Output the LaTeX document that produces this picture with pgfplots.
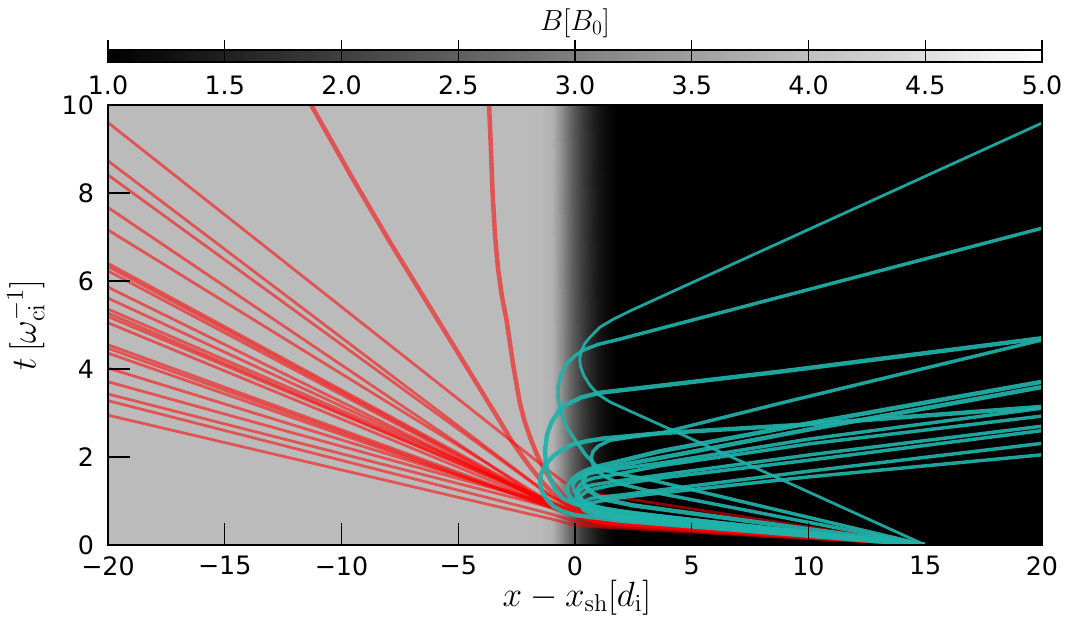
\documentclass[border=0pt]{standalone}
\usepackage[no-math]{fontspec}
\setmainfont{DejaVu Sans}
\usepackage{pgfplots}
\usepackage{pgfplotstable}
\pgfplotsset{compat=1.18}
\definecolor{ionred}{RGB}{255,0,0}
\definecolor{ionteal}{RGB}{32,178,170}

\pgfplotstableread{
x y B
-20 0 3.93
-3 0 3.93
-1.5 0 3.92
-1 0 3.79
-0.75 0 3.51
-0.5 0 3.12
-0.25 0 2.69
0 0 2.33
0.3 0 1.97
0.64 0 1.63
1 0 1.35
1.4 0 1.13
1.8 0 1
20 0 1
-20 10 3.93
-3 10 3.93
-1.5 10 3.92
-1 10 3.79
-0.75 10 3.51
-0.5 10 3.12
-0.25 10 2.69
0 10 2.33
0.3 10 1.97
0.64 10 1.63
1 10 1.35
1.4 10 1.13
1.8 10 1
20 10 1
}\fieldtable

\pgfplotstableread{
x y
1 0
5 0
1 1
5 1
}\cbartable

\tikzset{
  redthin/.style={ionred, opacity=0.55, line width=2.1pt, line join=round},
  redthick/.style={ionred, opacity=0.55, line width=3.4pt, line join=round},
  tealthin/.style={ionteal, opacity=0.92, line width=2.1pt, line join=round},
  tealmid/.style={ionteal, opacity=0.92, line width=2.6pt, line join=round},
  tealthick/.style={ionteal, opacity=0.92, line width=3.3pt, line join=round},
}

\begin{document}
\begin{tikzpicture}
\path[use as bounding box] (0,0) rectangle (813.75pt,465pt);

% colour bar
\begin{axis}[
  at={(81pt,418.5pt)}, anchor=south west,
  scale only axis, width=700.5pt, height=9pt,
  xmin=1, xmax=5, ymin=0, ymax=1,
  axis on top,
  axis line style={line width=1.2pt},
  colormap/blackwhite,
  point meta min=1, point meta max=5,
  xtick={1,1.5,2,2.5,3,3.5,4,4.5,5},
  xticklabels={1.0,1.5,2.0,2.5,3.0,3.5,4.0,4.5,5.0},
  ytick=\empty,
  xtick pos=lower, tick align=inside,
  major tick length=16.5pt,
  tick style={black, line width=1.1pt},
  every x tick label/.append style={font=\fontsize{19}{21}\selectfont, yshift=-7pt},
  title={$B[B_0]$},
  title style={at={(axis description cs:0.5,1)}, anchor=center, yshift=14pt, font=\fontsize{20.74}{24}\selectfont, scale=1.05},
]
\addplot[surf, shader=interp, mesh/rows=2, point meta=x] table[x=x, y=y] {\cbartable};
\end{axis}

% main panel
\begin{axis}[
  at={(81pt,56.25pt)}, anchor=south west,
  scale only axis, width=700.5pt, height=330pt,
  xmin=-20, xmax=20, ymin=0, ymax=10,
  axis on top,
  axis line style={line width=1.5pt},
  colormap/blackwhite,
  point meta min=1, point meta max=5,
  xtick={-20,-15,-10,-5,0,5,10,15,20},
  xticklabels={−20,−15,−10,−5,0,5,10,15,20},
  ytick={0,2,4,6,8,10},
  yticklabels={0,2,4,6,8,10},
  xtick pos=lower, ytick pos=left, tick align=inside,
  major tick length=16.5pt,
  tick style={black, line width=1.1pt},
  every x tick label/.append style={font=\fontsize{19}{21}\selectfont, yshift=-5pt},
  every y tick label/.append style={font=\fontsize{19}{21}\selectfont, xshift=-7pt},
  xlabel={$x-x_{\mathrm{sh}}[d_{\mathrm{i}}]$},
  ylabel={$t\,[\omega_{\mathrm{ci}}^{-1}]$},
  xlabel style={at={(axis description cs:0.502,-0.12)}, anchor=center, font=\fontsize{20.74}{24}\selectfont, scale=1.27},
  ylabel style={at={(axis description cs:-0.088,0.5)}, anchor=center, font=\fontsize{20.74}{24}\selectfont, scale=1.27},
]
\addplot[surf, shader=interp, mesh/rows=2, point meta=\thisrow{B}] table[x=x, y=y] {\fieldtable};

% transmitted ions
\addplot[redthin] coordinates {(-20,9.6)(-8.35,4.72)(-2,2.06)(-1,1.64)(-0.5,1.44)(0,1.26)(0.5,1.20)(1,1.15)(15,0)};
\addplot[redthin] coordinates {(-20,8.73)(-8.35,4.05)(-2,1.50)(-1,1.10)(-0.5,0.97)(0,0.85)(0.5,0.74)(1,0.68)(15,0)};
\addplot[redthin] coordinates {(-20,8.41)(-8.35,3.92)(-2,1.48)(-1,1.09)(-0.5,0.96)(0,0.84)(0.5,0.74)(1,0.67)(15,0)};
\addplot[redthin] coordinates {(-20,7.67)(-8.35,3.50)(-2,1.23)(-1,0.87)(-0.5,0.77)(0,0.67)(0.5,0.60)(1,0.53)(15,0)};
\addplot[redthin] coordinates {(-20,7.16)(-8.35,3.35)(-2,1.28)(-1,0.95)(-0.5,0.84)(0,0.73)(0.5,0.64)(1,0.57)(15,0)};
\addplot[redthin] coordinates {(-20,6.40)(-8.35,3.05)(-2,1.22)(-1,0.93)(-0.5,0.82)(0,0.72)(0.5,0.63)(1,0.56)(15,0)};
\addplot[redthin] coordinates {(-20,6.33)(-8.35,3.00)(-2,1.19)(-1,0.90)(-0.5,0.79)(0,0.69)(0.5,0.61)(1,0.54)(15,0)};
\addplot[redthin] coordinates {(-20,6.23)(-8.35,2.95)(-2,1.16)(-1,0.88)(-0.5,0.77)(0,0.68)(0.5,0.60)(1,0.52)(15,0)};
\addplot[redthin] coordinates {(-20,5.86)(-8.35,2.82)(-2,1.16)(-1,0.90)(-0.5,0.79)(0,0.69)(0.5,0.61)(1,0.54)(15,0)};
\addplot[redthin] coordinates {(-20,5.61)(-8.35,2.75)(-2,1.19)(-1,0.94)(-0.5,0.83)(0,0.72)(0.5,0.64)(1,0.56)(15,0)};
\addplot[redthin] coordinates {(-20,5.36)(-8.35,2.68)(-2,1.22)(-1,0.99)(-0.5,0.87)(0,0.76)(0.5,0.66)(1,0.59)(15,0)};
\addplot[redthin] coordinates {(-20,5.27)(-8.35,2.62)(-2,1.17)(-1,0.94)(-0.5,0.83)(0,0.72)(0.5,0.63)(1,0.56)(15,0)};
\addplot[redthin] coordinates {(-20,5.19)(-8.35,2.60)(-2,1.19)(-1,0.97)(-0.5,0.85)(0,0.75)(0.5,0.65)(1,0.58)(15,0)};
\addplot[redthin] coordinates {(-20,5.05)(-8.35,2.50)(-2,1.11)(-1,0.89)(-0.5,0.78)(0,0.69)(0.5,0.60)(1,0.52)(15,0)};
\addplot[redthin] coordinates {(-20,4.55)(-8.35,2.30)(-2,1.07)(-1,0.88)(-0.5,0.77)(0,0.68)(0.5,0.60)(1,0.52)(15,0)};
\addplot[redthin] coordinates {(-20,4.47)(-8.35,2.25)(-2,1.04)(-1,0.85)(-0.5,0.75)(0,0.65)(0.5,0.57)(1,0.50)(15,0)};
\addplot[redthin] coordinates {(-20,4.36)(-8.35,2.20)(-2,1.03)(-1,0.84)(-0.5,0.74)(0,0.65)(0.5,0.57)(1,0.49)(15,0)};
\addplot[redthin] coordinates {(-20,4.02)(-8.35,2.12)(-2,1.08)(-1,0.92)(-0.5,0.81)(0,0.71)(0.5,0.62)(1,0.54)(15,0)};
\addplot[redthin] coordinates {(-20,3.71)(-8.35,2.00)(-2,1.07)(-1,0.92)(-0.5,0.81)(0,0.71)(0.5,0.62)(1,0.54)(15,0)};
\addplot[redthin] coordinates {(-20,3.43)(-8.35,1.85)(-2,0.99)(-1,0.85)(-0.5,0.75)(0,0.65)(0.5,0.57)(1,0.50)(15,0)};
\addplot[redthin] coordinates {(-20,3.28)(-8.35,1.70)(-2,0.84)(-1,0.70)(-0.5,0.62)(0,0.54)(0.5,0.49)(1,0.45)(15,0)};
\addplot[redthin] coordinates {(-20,2.95)(-8.35,1.50)(-2,0.71)(-1,0.59)(-0.5,0.52)(0,0.45)(0.5,0.43)(1,0.41)(15,0)};
\addplot[redthick] coordinates {(-11.3,10)(-9.6,8.4)(-7.92,6.88)(-5.87,5.11)(-3.2,2.80)(-2.65,2.31)(-2,1.83)(-1.37,1.41)(-0.9,1.15)(-0.5,0.97)(0,0.8)(1,0.6)(15,0)};
\addplot[redthick] coordinates {(-3.68,10)(-3.6,9)(-3.53,8)(-3.42,7)(-3.3,6.3)(-3.13,5.65)(-2.93,5.11)(-2.65,4.1)(-2.36,3.22)(-2.15,2.8)(-1.93,2.46)(-1.65,2.08)(-1.37,1.77)(-1,1.45)(-0.5,1.12)(0,0.9)(1,0.7)(15,0)};

% reflected ions
\addplot[tealthin] coordinates {(15,0)(9.07,1.43)(4.37,2.56)(2.2,3.08)(1.5,3.25)(1,3.42)(0.65,3.62)(0.38,3.85)(0.24,4.05)(0.2,4.22)(0.26,4.4)(0.42,4.58)(0.64,4.72)(1.07,4.95)(1.6,5.12)(2.4,5.33)(20,9.59)};
\addplot[tealmid] coordinates {(15,0)(8,0.88)(3,1.51)(2,1.6)(1.4,1.68)(0.92,1.79)(0.45,2.05)(0,2.39)(-0.35,2.67)(-0.6,3.0)(-0.72,3.35)(-0.72,3.6)(-0.6,3.87)(-0.34,4.13)(0,4.3)(0.36,4.43)(1,4.56)(1.93,4.68)(20,7.2)};
\addplot[tealthick] coordinates {(15,0)(6,0.5)(2,0.76)(0.5,0.88)(0,0.93)(-0.5,1.05)(-0.85,1.27)(-1.1,1.55)(-1.25,1.85)(-1.28,2.16)(-1.2,2.5)(-1,2.8)(-0.7,3.03)(-0.34,3.2)(0.3,3.36)(1.07,3.46)(8.78,3.94)(20,4.70)};
\addplot[tealmid] coordinates {(15,0)(3.64,1.17)(2,1.38)(1.3,1.55)(0.95,1.68)(0.75,1.85)(0.7,2.0)(0.78,2.13)(1,2.25)(1.5,2.38)(2.5,2.46)(3.64,2.54)(8.78,3.22)(20,4.66)};
\addplot[tealthick] coordinates {(15,0)(2,0.55)(0,0.68)(-0.5,0.76)(-0.9,0.87)(-1.2,1.03)(-1.42,1.22)(-1.5,1.41)(-1.45,1.62)(-1.28,1.82)(-0.94,2.02)(-0.5,2.18)(-0.13,2.28)(0.5,2.36)(1.2,2.42)(3.64,2.54)(9.64,2.73)(20,3.14)};
\addplot[tealthick] coordinates {(15,0)(2,0.65)(0.8,0.77)(0.3,0.87)(-0.05,1.0)(-0.28,1.13)(-0.34,1.25)(-0.28,1.38)(-0.1,1.5)(0.2,1.62)(0.5,1.7)(0.94,1.78)(3.64,2.13)(10.06,2.77)(20,3.71)};
\addplot[tealthick] coordinates {(15,0)(2.5,0.9)(1.4,1.02)(1,1.1)(0.65,1.22)(0.42,1.36)(0.34,1.48)(0.5,1.62)(0.75,1.68)(1,1.72)(3.64,1.98)(10.06,2.63)(20,3.59)};
\addplot[tealmid] coordinates {(15,0)(2.5,0.72)(1.2,0.84)(0.6,0.92)(0.2,1.05)(0,1.2)(-0.1,1.35)(0.02,1.46)(0.3,1.56)(0.6,1.62)(1.2,1.68)(3.64,1.86)(10.06,2.41)(20,3.11)};
\addplot[tealmid] coordinates {(15,0)(2.5,0.72)(1.2,0.83)(0.8,0.88)(0.4,0.98)(0.18,1.1)(0.1,1.25)(0.2,1.36)(0.45,1.46)(0.8,1.52)(1.5,1.58)(3.64,1.80)(10.06,2.30)(20,2.93)};
\addplot[tealmid] coordinates {(15,0)(2.5,0.64)(1.2,0.74)(0.8,0.78)(0.35,0.88)(0.12,0.98)(0.05,1.1)(0.13,1.2)(0.35,1.3)(0.7,1.36)(1.5,1.43)(3.64,1.59)(10.06,2.05)(20,2.70)};
\addplot[tealmid] coordinates {(15,0)(2.5,0.62)(1.4,0.72)(0.9,0.78)(0.5,0.86)(0.27,0.96)(0.2,1.05)(0.27,1.13)(0.5,1.22)(0.8,1.27)(1.5,1.35)(3.64,1.52)(10.06,1.93)(20,2.60)};
\addplot[tealmid] coordinates {(15,0)(2.5,0.58)(1.5,0.66)(1,0.72)(0.6,0.8)(0.4,0.88)(0.35,0.95)(0.43,1.0)(0.7,1.06)(1,1.08)(2,1.14)(3.64,1.25)(10.06,1.68)(20,2.31)};
\addplot[tealmid] coordinates {(15,0)(2.5,0.54)(1.5,0.61)(1,0.66)(0.6,0.73)(0.37,0.79)(0.3,0.85)(0.37,0.9)(0.6,0.95)(1,0.99)(2,1.08)(3.64,1.18)(10.06,1.55)(20,2.05)};
\end{axis}
\end{tikzpicture}
\end{document}
